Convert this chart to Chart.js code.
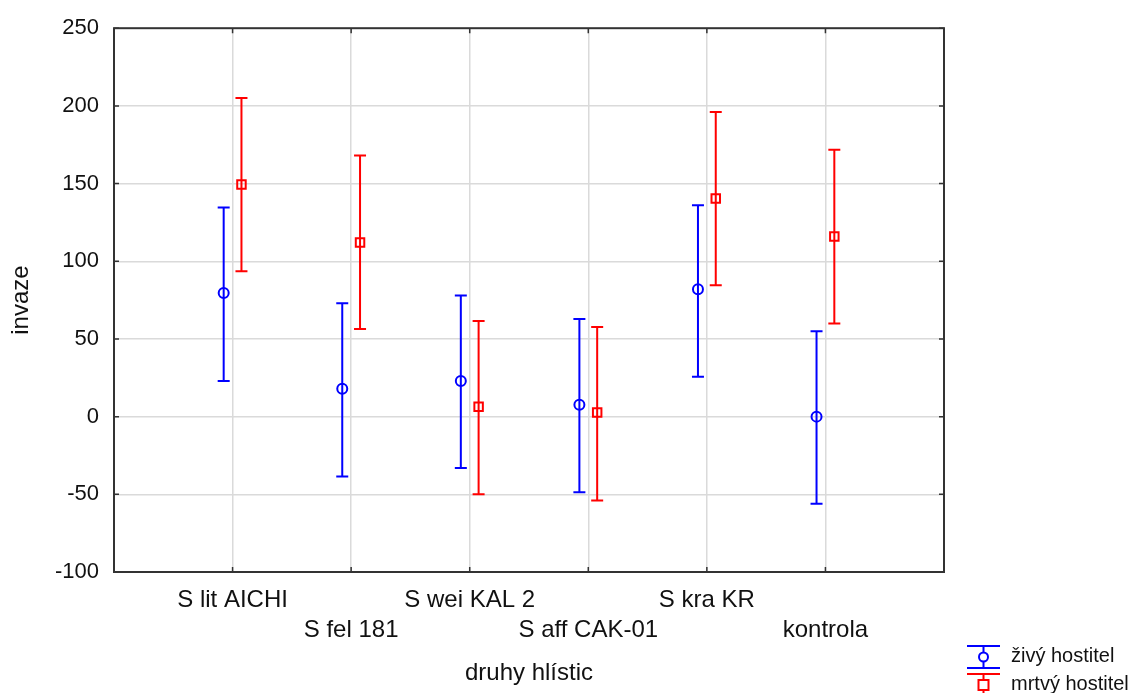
<!DOCTYPE html>
<html>
<head>
<meta charset="utf-8">
<script src="https://cdn.jsdelivr.net/npm/chart.js@4"></script>
<style>
  html, body { margin: 0; padding: 0; background: #fff; }
  #obal { width: 1137px; height: 693px; }
</style>
</head>
<body>
<div id="obal"><canvas id="graf" width="1137" height="693"></canvas></div>
<script>
const kategorie = ["S lit AICHI", "S fel 181", "S wei KAL 2", "S aff CAK-01", "S kra KR", "kontrola"];

const zivyPrumer = [79.5, 18, 23, 7.7, 82, 0];
const zivyDolni = [23, -38.5, -33, -48.7, 25.6, -56];
const zivyHorni = [134.6, 73, 78, 62.8, 136, 55];

const mrtvyPrumer = [149.4, 112, 6.4, 2.6, 140.4, 116];
const mrtvyDolni = [93.6, 56.4, -50, -54, 84.6, 60];
const mrtvyHorni = [205, 168, 61.5, 57.7, 196, 171.8];

const yTicks = [-100, -50, 0, 50, 100, 150, 200, 250];
const legenda = ["živý hostitel", "mrtvý hostitel"];

const posun = 0.075;
const pismo = "'Liberation Sans', Arial, sans-serif";
const barvaTextu = "#111";

function body(prumer, smer) {
  return prumer.map((v, i) => ({ x: i + 1 + smer * posun, y: v }));
}

// chybove useky (svisla cara + koncove carky)
const chybovePlugin = {
  id: "chyby",
  beforeDatasetsDraw(chart) {
    const ctx = chart.ctx;
    const sx = chart.scales.x;
    const sy = chart.scales.y;
    chart.data.datasets.forEach(ds => {
      ctx.save();
      ctx.strokeStyle = ds.borderColor;
      ctx.lineWidth = 2;
      ds.data.forEach((p, i) => {
        const x = sx.getPixelForValue(p.x);
        const y1 = sy.getPixelForValue(ds.dolni[i]);
        const y2 = sy.getPixelForValue(ds.horni[i]);
        ctx.beginPath();
        ctx.moveTo(x, y1);
        ctx.lineTo(x, y2);
        ctx.moveTo(x - 6, y1);
        ctx.lineTo(x + 6, y1);
        ctx.moveTo(x - 6, y2);
        ctx.lineTo(x + 6, y2);
        ctx.stroke();
      });
      ctx.restore();
    });
  }
};

// ramecek grafu a vnitrni znacky
const ramecekPlugin = {
  id: "ramecek",
  afterDraw(chart) {
    const ctx = chart.ctx;
    const a = chart.chartArea;
    const sx = chart.scales.x;
    const sy = chart.scales.y;
    ctx.save();
    ctx.strokeStyle = "#333";
    ctx.lineWidth = 1.5;
    ctx.beginPath();
    yTicks.forEach(t => {
      const y = sy.getPixelForValue(t);
      ctx.moveTo(a.left, y);
      ctx.lineTo(a.left + 5, y);
      ctx.moveTo(a.right, y);
      ctx.lineTo(a.right - 5, y);
    });
    kategorie.forEach((k, i) => {
      const x = sx.getPixelForValue(i + 1);
      ctx.moveTo(x, a.bottom);
      ctx.lineTo(x, a.bottom - 5);
      ctx.moveTo(x, a.top);
      ctx.lineTo(x, a.top + 5);
    });
    ctx.stroke();
    ctx.lineWidth = 2;
    ctx.strokeRect(a.left, a.top, a.right - a.left, a.bottom - a.top);
    ctx.restore();
  }
};

// legenda vpravo dole
const legendaPlugin = {
  id: "legenda",
  afterDraw(chart) {
    const ctx = chart.ctx;
    const x0 = 967, x1 = 1000, xm = 983.5;
    ctx.save();
    chart.data.datasets.forEach((ds, i) => {
      const yc = 657 + i * 28;
      ctx.strokeStyle = ds.borderColor;
      ctx.lineWidth = 2;
      ctx.beginPath();
      ctx.moveTo(x0, yc - 11);
      ctx.lineTo(x1, yc - 11);
      ctx.moveTo(x0, yc + 11);
      ctx.lineTo(x1, yc + 11);
      ctx.moveTo(xm, yc - 11);
      ctx.lineTo(xm, yc + 11);
      ctx.stroke();
      ctx.beginPath();
      if (ds.pointStyle === "circle") {
        ctx.arc(xm, yc, 4.5, 0, Math.PI * 2);
      } else {
        ctx.rect(xm - 5, yc - 5, 10, 10);
      }
      ctx.fillStyle = "#fff";
      ctx.fill();
      ctx.stroke();
      ctx.fillStyle = barvaTextu;
      ctx.font = "20px " + pismo;
      ctx.textBaseline = "middle";
      ctx.fillText(ds.label, 1011, yc - 1);
    });
    ctx.restore();
  }
};

new Chart(document.getElementById("graf"), {
  type: "scatter",
  data: {
    datasets: [
      {
        label: legenda[0],
        data: body(zivyPrumer, -1),
        dolni: zivyDolni,
        horni: zivyHorni,
        borderColor: "#0000ff",
        backgroundColor: "rgba(0,0,0,0)",
        pointStyle: "circle",
        pointRadius: 5,
        borderWidth: 2
      },
      {
        label: legenda[1],
        data: body(mrtvyPrumer, 1),
        dolni: mrtvyDolni,
        horni: mrtvyHorni,
        borderColor: "#ff0000",
        backgroundColor: "rgba(0,0,0,0)",
        pointStyle: "rect",
        pointRadius: 6,
        borderWidth: 2
      }
    ]
  },
  options: {
    responsive: false,
    animation: false,
    layout: { padding: { top: 26, right: 193, left: 0, bottom: 0 } },
    plugins: {
      legend: { display: false },
      tooltip: { enabled: false }
    },
    scales: {
      x: {
        type: "linear",
        min: 0,
        max: 7,
        afterFit(scale) { scale.height = 121; },
        afterBuildTicks(scale) {
          scale.ticks = [0, 1, 2, 3, 4, 5, 6, 7].map(v => ({ value: v }));
        },
        grid: {
          color: ctx => (ctx.tick && ctx.tick.value > 0 && ctx.tick.value < 7) ? "#dadada" : "rgba(0,0,0,0)",
          lineWidth: 1.5,
          drawTicks: false
        },
        border: { display: false },
        ticks: {
          autoSkip: false,
          maxRotation: 0,
          padding: 13,
          color: barvaTextu,
          font: { family: pismo, size: 24, lineHeight: 1.25 },
          callback: v => {
            if (v < 1 || v > 6) return "";
            return v % 2 === 1 ? kategorie[v - 1] : ["", kategorie[v - 1]];
          }
        },
        title: {
          display: true,
          text: "druhy hlístic",
          color: barvaTextu,
          font: { family: pismo, size: 24 },
          padding: { top: 0, bottom: 5 }
        }
      },
      y: {
        min: -100,
        max: 250,
        afterFit(scale) { scale.width = 114; },
        afterBuildTicks(scale) {
          scale.ticks = yTicks.map(v => ({ value: v }));
        },
        grid: {
          color: ctx => (ctx.tick && ctx.tick.value > -100 && ctx.tick.value < 250) ? "#dadada" : "rgba(0,0,0,0)",
          lineWidth: 1.5,
          drawTicks: false
        },
        border: { display: false },
        ticks: {
          padding: 15,
          color: barvaTextu,
          font: { family: pismo, size: 22 }
        },
        title: {
          display: true,
          text: "invaze",
          color: barvaTextu,
          font: { family: pismo, size: 24 },
          padding: { top: 7, bottom: 0 }
        }
      }
    }
  },
  plugins: [chybovePlugin, ramecekPlugin, legendaPlugin]
});
</script>
</body>
</html>
